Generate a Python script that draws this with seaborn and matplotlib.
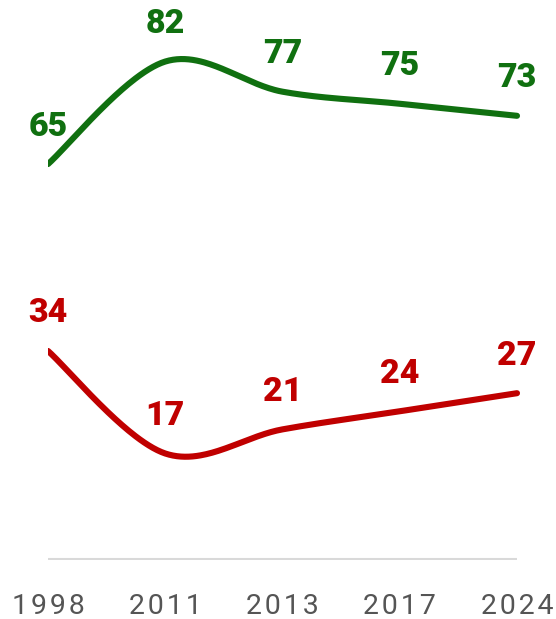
import numpy as np
import pandas as pd
import matplotlib
matplotlib.use("Agg")
import matplotlib.pyplot as plt
import seaborn as sns

years = ["1998", "2011", "2013", "2017", "2024"]
green_vals = [65, 82, 77, 75, 73]
red_vals = [34, 17, 21, 24, 27]

GREEN = "#107010"
RED = "#C00000"

sns.set_theme(style="white")
plt.rcParams["font.family"] = ["Roboto", "DejaVu Sans"]


def catmull_rom(xs, ys, n=60):
    xs = np.asarray(xs, float)
    ys = np.asarray(ys, float)
    P = np.column_stack([xs, ys])
    k = len(P)
    out = []
    for i in range(k - 1):
        p0 = P[i - 1] if i > 0 else P[i]
        p1 = P[i]
        p2 = P[i + 1]
        p3 = P[i + 2] if i + 2 < k else P[i + 1]
        m1 = (p2 - p0) / 2
        m2 = (p3 - p1) / 2
        t = np.linspace(0, 1, n, endpoint=(i == k - 2))[:, None]
        h00 = 2 * t**3 - 3 * t**2 + 1
        h10 = t**3 - 2 * t**2 + t
        h01 = -2 * t**3 + 3 * t**2
        h11 = t**3 - t**2
        out.append(h00 * p1 + h10 * m1 + h01 * p2 + h11 * m2)
    return np.vstack(out)


W, H = 556, 619
fig = plt.figure(figsize=(W / 100, H / 100), dpi=100)
px_per_cat = 117.25
left_px = 48
ax_bottom_px = 560
ax = fig.add_axes([left_px / W, 1 - ax_bottom_px / H, (W - left_px) / W, ax_bottom_px / H])
ax.set_xlim(0, (W - left_px) / px_per_cat)
px_per_unit = 6.03
zero_px = 556
ax.set_ylim(-(ax_bottom_px - zero_px) / px_per_unit, zero_px / px_per_unit)

xpos = np.arange(len(years))
frames = []
for name, vals in [("green", green_vals), ("red", red_vals)]:
    c = catmull_rom(xpos, vals)
    frames.append(pd.DataFrame({"x": c[:, 0], "y": c[:, 1], "series": name}))
df = pd.concat(frames, ignore_index=True)

sns.lineplot(data=df, x="x", y="y", hue="series", palette={"green": GREEN, "red": RED},
             sort=False, estimator=None, linewidth=4.4, legend=False, ax=ax,
             solid_capstyle="round")

for vals, col in [(green_vals, GREEN), (red_vals, RED)]:
    for xi, v in zip(xpos, vals):
        ax.annotate(str(v), (xi, v), xytext=(0, 27), textcoords="offset points",
                    ha="center", va="center", color=col, fontsize=24.5,
                    fontweight="black", annotation_clip=False)

ax.hlines(-0.5, 0, len(years) - 1, color="#d9d9d9", linewidth=1.5, zorder=0)

for s in ax.spines.values():
    s.set_visible(False)
ax.set_xticks(xpos)
ax.set_xticklabels(["\u200a".join(y) for y in years], fontsize=20.5,
                   color="#555555", fontweight="normal")
ax.tick_params(axis="x", length=0, pad=24)
ax.set_yticks([])
ax.set_xlabel("")
ax.set_ylabel("")

fig.savefig("out.png", dpi=100)
